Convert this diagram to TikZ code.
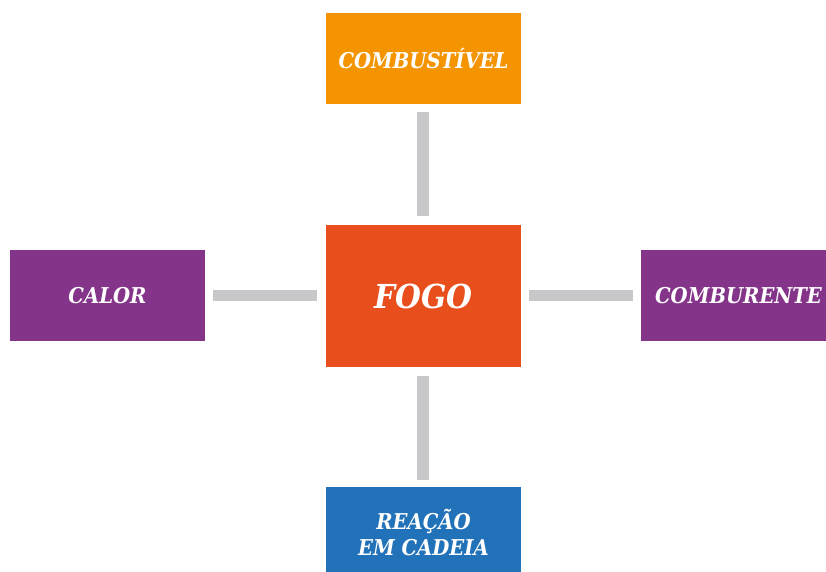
\documentclass[tikz,border=0pt]{standalone}
\usepackage{fontspec}
\setmainfont{DejaVu Serif Condensed}
\definecolor{corange}{HTML}{F39400}
\definecolor{cred}{HTML}{E94F1C}
\definecolor{cpurple}{HTML}{84358A}
\definecolor{cblue}{HTML}{2272B9}
\definecolor{cgray}{HTML}{C8C8CA}
\tikzset{
  box/.style={rectangle, inner sep=0pt, minimum width=195pt, minimum height=91pt, text=white, align=center, font=\fontsize{21.8}{26}\selectfont\bfseries\itshape},
  link/.style={draw=cgray, line width=11.5pt}
}
\begin{document}
\begin{tikzpicture}[x=1pt,y=1pt]
\useasboundingbox (0,0) rectangle (826,-571);
\begin{scope}
\clip (0,0) rectangle (826,-571);
\node[box, fill=cred, minimum height=142pt, font=\fontsize{33}{38}\selectfont\bfseries\itshape] (fogo) at (423.5,-296) {FOGO};
\node[box, fill=corange] (comb) at (423.5,-58.5) {COMBUSTÍVEL};
\node[box, fill=cpurple] (calor) at (107.5,-295.5) {CALOR};
\node[box, fill=cpurple] (ocomb) at (738.5,-295.5) {COMBURENTE};
\node[box, fill=cblue] (reac) at (423.5,-532.5) {REAÇÃO\\EM CADEIA};
\end{scope}
\coordinate (t1) at (423,-112); \coordinate (t2) at (423,-216);
\coordinate (b1) at (423,-376); \coordinate (b2) at (423,-480);
\coordinate (l1) at (213,-295.5); \coordinate (l2) at (317,-295.5);
\coordinate (r1) at (529,-295.5); \coordinate (r2) at (633,-295.5);
\draw[link] (t1) -- (t2);
\draw[link] (b1) -- (b2);
\draw[link] (l1) -- (l2);
\draw[link] (r1) -- (r2);
\end{tikzpicture}
\end{document}
